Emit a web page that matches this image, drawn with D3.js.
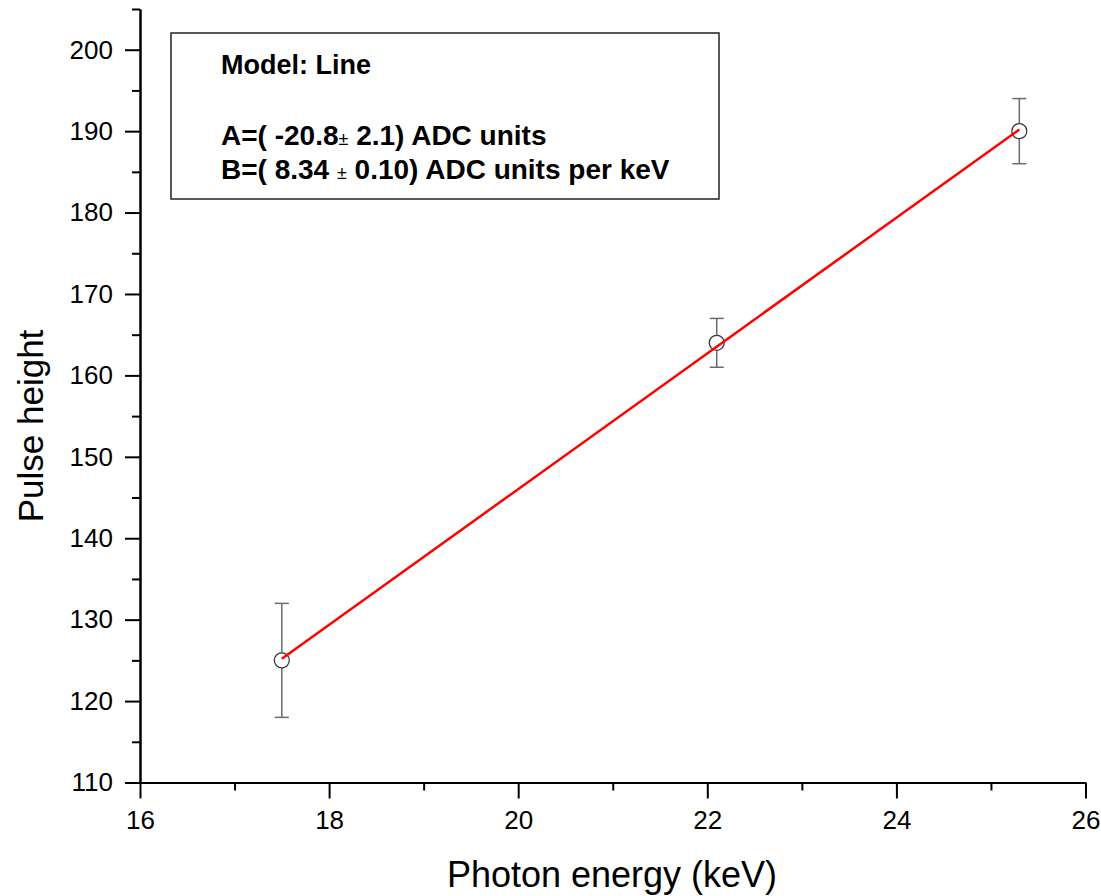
<html>
<head>
<script src="https://d3js.org/d3.v7.min.js"></script>
<style>
  body { margin:0; background:white; }
  text { font-family: Arial, "Liberation Sans", sans-serif; }
</style>
</head>
<body>
<svg id="plot"></svg>
<script>

//data
var energy   = [17.5, 22.1, 25.3];     //keV
var pulse    = [125, 164, 190];        //pulse height
var pulseErr = [7, 3, 4];

//fitted line end points
var fitEnergy = [17.5, 25.3];
var fitPulse  = [125.2, 190.2];

//ticks
var xMajor = [16, 18, 20, 22, 24, 26];
var xMinor = [17, 19, 21, 23, 25];
var yMajor = [110, 120, 130, 140, 150, 160, 170, 180, 190, 200];
var yMinor = [115, 125, 135, 145, 155, 165, 175, 185, 195, 205];

//fit box text
var boxTitle = "Model: Line";
var boxA = ["A=( -20.8", "\u00B1", " 2.1) ADC units"];
var boxB = ["B=( 8.34 ", "\u00B1", " 0.10) ADC units per keV"];

var xTitle = "Photon energy (keV)";
var yTitle = "Pulse height";

var initGraph = function(target)
{
    var screen = {width:1101, height:896};
    var margins = {top:9, bottom:113, left:140, right:15};

    var graph =
    {
        width:1085.5-margins.left,
        height:782.5-margins.top
    }

    var svg = d3.select(target)
        .attr("width",screen.width)
        .attr("height",screen.height)

    var xScale = d3.scaleLinear()
        .domain([16,26])
        .range([margins.left, margins.left+graph.width]);

    var yScale = d3.scaleLinear()
        .domain([110,205])
        .range([margins.top+graph.height, margins.top]);

    makeAxes(svg,xScale,yScale);
    makeLabels(svg);
    makeData(svg,xScale,yScale);
    makeBox(svg);
}

//axes with major and minor ticks
var makeAxes = function(svg,xScale,yScale)
{
    var y0 = yScale(110);
    var x0 = xScale(16);

    var xMinorAxis = d3.axisBottom(xScale).tickValues(xMinor)
        .tickSizeInner(8).tickSizeOuter(0).tickFormat("");
    var yMinorAxis = d3.axisLeft(yScale).tickValues(yMinor)
        .tickSizeInner(8).tickSizeOuter(0).tickFormat("");

    var xAxis = d3.axisBottom(xScale).tickValues(xMajor)
        .tickSizeInner(16).tickSizeOuter(0).tickPadding(12)
        .tickFormat(d3.format("d"));
    var yAxis = d3.axisLeft(yScale).tickValues(yMajor)
        .tickSizeInner(15).tickSizeOuter(0).tickPadding(12)
        .tickFormat(d3.format("d"));

    var gx = svg.append("g").attr("transform","translate(0,"+y0+")");
    gx.append("g").call(xMinorAxis);
    gx.append("g").call(xAxis);

    var gy = svg.append("g").attr("transform","translate("+x0+",0)");
    gy.append("g").call(yMinorAxis);
    gy.append("g").call(yAxis);

    svg.selectAll(".domain, .tick line")
        .attr("stroke","black")
        .attr("stroke-width",2);

    svg.selectAll(".tick text")
        .attr("font-size",26)
        .attr("font-family","Arial, 'Liberation Sans', sans-serif")
        .attr("fill","black");
}

//axis titles
var makeLabels = function(svg)
{
    svg.append("text")
        .text(xTitle)
        .attr("text-anchor","middle")
        .attr("font-size",36)
        .attr("x",612)
        .attr("y",887);

    svg.append("text")
        .text(yTitle)
        .attr("text-anchor","middle")
        .attr("font-size",35)
        .attr("transform","translate(43,426) rotate(-90)");
}

//error bars, circles and fitted line
var makeData = function(svg,xScale,yScale)
{
    var points = energy.map(function(e,i) {
        return {x:e, y:pulse[i], err:pulseErr[i]};
    });

    var bars = svg.append("g")
        .attr("stroke","#6a6a6a")
        .attr("stroke-width",1.5)
        .selectAll("g")
        .data(points)
        .enter()
        .append("g");

    bars.append("line")
        .attr("x1",function(d) { return xScale(d.x); })
        .attr("x2",function(d) { return xScale(d.x); })
        .attr("y1",function(d) { return yScale(d.y+d.err); })
        .attr("y2",function(d) { return yScale(d.y-d.err); });

    bars.append("line")
        .attr("x1",function(d) { return xScale(d.x)-7; })
        .attr("x2",function(d) { return xScale(d.x)+7; })
        .attr("y1",function(d) { return yScale(d.y+d.err); })
        .attr("y2",function(d) { return yScale(d.y+d.err); });

    bars.append("line")
        .attr("x1",function(d) { return xScale(d.x)-7; })
        .attr("x2",function(d) { return xScale(d.x)+7; })
        .attr("y1",function(d) { return yScale(d.y-d.err); })
        .attr("y2",function(d) { return yScale(d.y-d.err); });

    svg.append("g")
        .selectAll("circle")
        .data(points)
        .enter()
        .append("circle")
        .attr("cx",function(d) { return xScale(d.x); })
        .attr("cy",function(d) { return yScale(d.y); })
        .attr("r",7.5)
        .attr("fill","white")
        .attr("stroke","#3a3a3a")
        .attr("stroke-width",1.3);

    var lineGenerator = d3.line()
        .x(function(d,i) { return xScale(fitEnergy[i]); })
        .y(function(d)   { return yScale(d); });

    svg.append("path")
        .datum(fitPulse)
        .attr("d",lineGenerator)
        .attr("fill","none")
        .attr("stroke","#ff0000")
        .attr("stroke-width",2.5);
}

//box with fit parameters
var makeBox = function(svg)
{
    var box = svg.append("g");

    box.append("rect")
        .attr("x",171)
        .attr("y",33)
        .attr("width",548)
        .attr("height",166)
        .attr("fill","white")
        .attr("stroke","#222")
        .attr("stroke-width",1.5);

    box.append("text")
        .text(boxTitle)
        .attr("x",221)
        .attr("y",74)
        .attr("font-size",27)
        .attr("font-weight","bold");

    var rows = [boxA, boxB];
    var baselines = [145, 179];

    rows.forEach(function(parts,i)
    {
        var t = box.append("text")
            .attr("x",221)
            .attr("y",baselines[i])
            .attr("font-size",28)
            .attr("font-weight","bold")
            .attr("xml:space","preserve");
        t.append("tspan").text(parts[0]);
        t.append("tspan").text(parts[1])
            .attr("font-size",18)
            .attr("font-weight","normal");
        t.append("tspan").text(parts[2]);
    });
}

initGraph("#plot");

</script>
</body>
</html>
